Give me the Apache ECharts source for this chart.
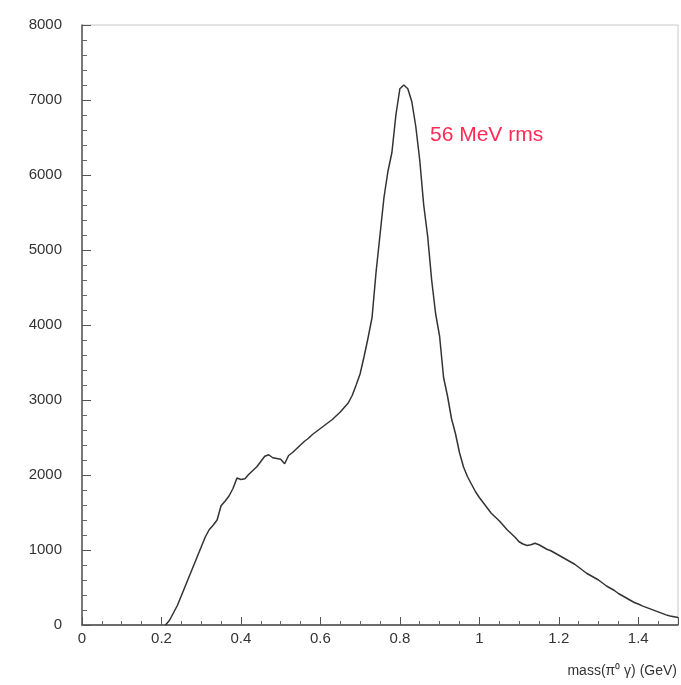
<!DOCTYPE html>
<html>
<head>
<meta charset="utf-8">
<script src="https://cdn.jsdelivr.net/npm/echarts@6/dist/echarts.min.js"></script>
<style>html,body{margin:0;padding:0;background:#fff}#c{width:681px;height:685px}</style>
</head>
<body>
<div id="c"></div>
<script>
// mass bins (GeV) and counts
const massBins = [0.00,0.01,0.02,0.03,0.04,0.05,0.06,0.07,0.08,0.09,0.10,0.11,0.12,0.13,0.14,0.15,0.16,0.17,0.18,0.19,0.20,0.21,
  0.22,0.23,0.24,0.25,0.26,0.27,0.28,0.29,0.30,0.31,0.32,0.33,0.34,0.35,0.36,0.37,0.38,0.39,
  0.40,0.41,0.42,0.43,0.44,0.45,0.46,0.47,0.48,0.49,0.50,0.51,0.52,0.53,0.54,0.55,0.56,0.57,0.58,0.59,
  0.60,0.61,0.62,0.63,0.64,0.65,0.66,0.67,0.68,0.69,0.70,0.71,0.72,0.73,0.74,0.75,0.76,0.77,0.78,0.79,
  0.80,0.81,0.82,0.83,0.84,0.85,0.86,0.87,0.88,0.89,0.90,0.91,0.92,0.93,0.94,0.95,0.96,0.97,0.98,0.99,
  1.00,1.01,1.02,1.03,1.04,1.05,1.06,1.07,1.08,1.09,1.10,1.11,1.12,1.13,1.14,1.15,1.16,1.17,1.18,1.19,
  1.20,1.21,1.22,1.23,1.24,1.25,1.26,1.27,1.28,1.29,1.30,1.31,1.32,1.33,1.34,1.35,1.36,1.37,1.38,1.39,
  1.40,1.41,1.42,1.43,1.44,1.45,1.46,1.47,1.48,1.49,1.50];
const counts = [0,0,0,0,0,0,0,0,0,0,0,0,0,0,0,0,0,0,0,0,0,0,
  60,160,260,390,520,650,780,910,1040,1170,1270,1330,1400,1590,1650,1720,1820,1960,
  1940,1950,2010,2060,2110,2180,2250,2270,2230,2220,2210,2150,2260,2300,2350,2400,2450,2490,2540,2580,
  2620,2660,2700,2740,2790,2840,2900,2960,3060,3200,3350,3580,3830,4100,4700,5200,5700,6050,6300,6800,
  7150,7200,7150,6980,6650,6200,5600,5180,4600,4150,3850,3300,3050,2750,2550,2300,2110,1980,1880,1780,
  1700,1630,1560,1490,1440,1390,1330,1270,1220,1170,1110,1080,1060,1070,1090,1070,1040,1010,990,960,
  930,900,870,840,810,770,730,690,660,630,600,560,520,490,460,420,390,360,330,300,
  280,255,235,215,195,175,155,135,120,110,100];
const xTitle = 'mass(\u03c0\u2070 \u03b3) (GeV)';
const note = '56 MeV rms';

const chart = echarts.init(document.getElementById('c'));
const font = 'Liberation Sans, Arial, sans-serif';
const firstNonZero = counts.findIndex(v => v > 0) - 1;
const seriesData = massBins.map((m, i) => [m, counts[i]]).slice(firstNonZero);
chart.setOption({
  animation: false,
  grid: {left: 82, right: 3, top: 25, bottom: 60, show: true, borderColor: '#c8c8c8', borderWidth: 1},
  xAxis: {
    type: 'value', min: 0, max: 1.5, interval: 0.2,
    axisLine: {lineStyle: {color: '#444', width: 1.5}},
    axisTick: {inside: true, length: 8, lineStyle: {color: '#555'}},
    minorTick: {show: true, splitNumber: 4, length: 4, lineStyle: {color: '#666'}},
    splitLine: {show: false},
    axisLabel: {color: '#333', fontSize: 15, fontFamily: font, margin: 6, showMaxLabel: false}
  },
  yAxis: {
    type: 'value', min: 0, max: 8000, interval: 1000,
    axisLine: {show: true, lineStyle: {color: '#555', width: 1.5}},
    axisTick: {show: true, inside: true, length: 9, lineStyle: {color: '#555'}},
    minorTick: {show: true, splitNumber: 5, length: 5, lineStyle: {color: '#666'}},
    splitLine: {show: false},
    axisLabel: {color: '#333', fontSize: 15, fontFamily: font, margin: 20, formatter: v => String(v)}
  },
  series: [{
    type: 'line', data: seriesData, showSymbol: false,
    lineStyle: {color: '#333', width: 1.5}
  }],
  graphic: [
    {type: 'text', right: 4, top: 664, style: {text: xTitle, fill: '#333', font: '14px ' + font}},
    {type: 'text', left: 430, top: 125, style: {text: note, fill: '#ff2a55', font: '21px ' + font}}
  ]
});
</script>
</body>
</html>
